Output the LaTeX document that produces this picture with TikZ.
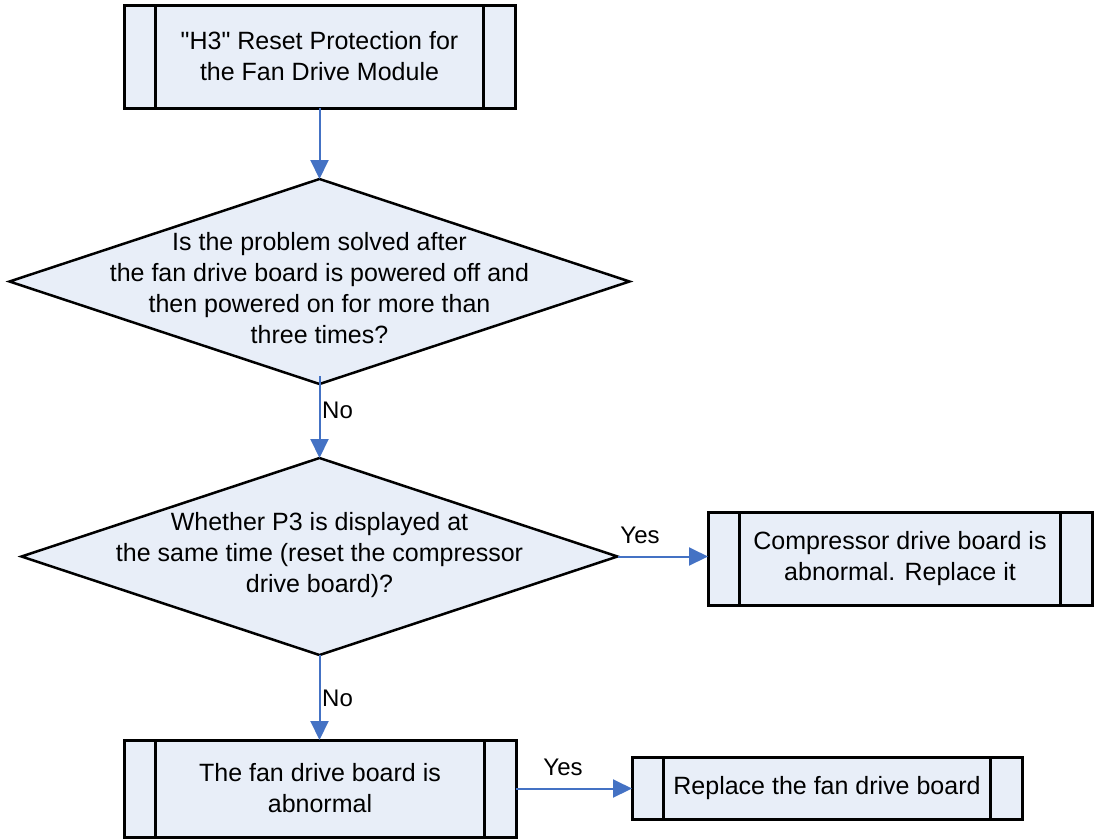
\documentclass[tikz,border=0pt]{standalone}
\usepackage{fontspec}
\setmainfont{Liberation Sans}
\newfontfamily\plainq[Ligatures=ResetAll]{Liberation Sans}
\usetikzlibrary{shapes.geometric,arrows.meta}
\definecolor{boxfill}{HTML}{E8EEF8}
\definecolor{arrowblue}{HTML}{4472C4}
\tikzset{
 proc/.style={draw=black, line width=3pt, fill=boxfill, rectangle, inner sep=0pt, outer sep=0pt, align=center, font=\fontsize{25}{31}\selectfont,
   path picture={\draw[line width=2.5pt] ([xshift=31.5pt]path picture bounding box.north west) -- ([xshift=31.5pt]path picture bounding box.south west) ([xshift=-31.5pt]path picture bounding box.north east) -- ([xshift=-31.5pt]path picture bounding box.south east);}},
 dec/.style={draw, line width=2.5pt, fill=boxfill, diamond, inner sep=0pt, outer sep=0pt},
 txt/.style={align=center, font=\fontsize{25}{31}\selectfont, inner sep=0pt},
 arr/.style={draw=arrowblue, line width=2pt, -{Triangle[length=19pt,width=18pt]}},
 lbl/.style={font=\fontsize{24}{31}\selectfont, inner sep=0pt},
}
\begin{document}
\begin{tikzpicture}[x=1pt,y=-1pt]
\useasboundingbox (0,0) rectangle (1094,839);
\node[proc, minimum width=391pt, minimum height=103pt] (b1) at (319.5,56.5) {{\plainq"}H3{\plainq"} Reset Protection for\\the Fan Drive Module};
\node[dec, minimum width=620pt, minimum height=205pt] (d1) at (319.5,281.5) {};
\node[txt] (t1) at (319.5,288) {Is the problem solved after\\the fan drive board is powered off and\\then powered on for more than\\three times?};
\node[dec, minimum width=596pt, minimum height=197pt] (d2) at (319.5,556.5) {};
\node[txt] (t2) at (319.5,555.5) {Whether P3 is displayed at\\the same time (reset the compressor\\drive board)?};
\node[proc, minimum width=384pt, minimum height=93pt] (b3) at (900,558.5) {Compressor drive board is\\abnormal. Replace it};
\node[proc, minimum width=392pt, minimum height=97pt] (b4) at (320,788.5) {The fan drive board is\\abnormal};
\node[proc, minimum width=390pt, minimum height=62pt] (b5) at (827,788.5) {Replace the fan drive board};
\draw[arr] (b1) -- (d1);
\draw[arr] ([yshift=8pt]d1.south) -- (d2.north);
\draw[arr] (d2.east) -- (d2.east -| b3.west);
\draw[arr] (d2.south) -- (b4.north -| d2.south);
\draw[arr] (b4.east) -- (b5.west);
\node[lbl, anchor=west] (n1) at (322,410) {No};
\node[lbl, anchor=west] (n2) at (322,698) {No};
\node[lbl] (y1) at (640,535) {Yes};
\node[lbl] (y2) at (563,767) {Yes};
\end{tikzpicture}
\end{document}
